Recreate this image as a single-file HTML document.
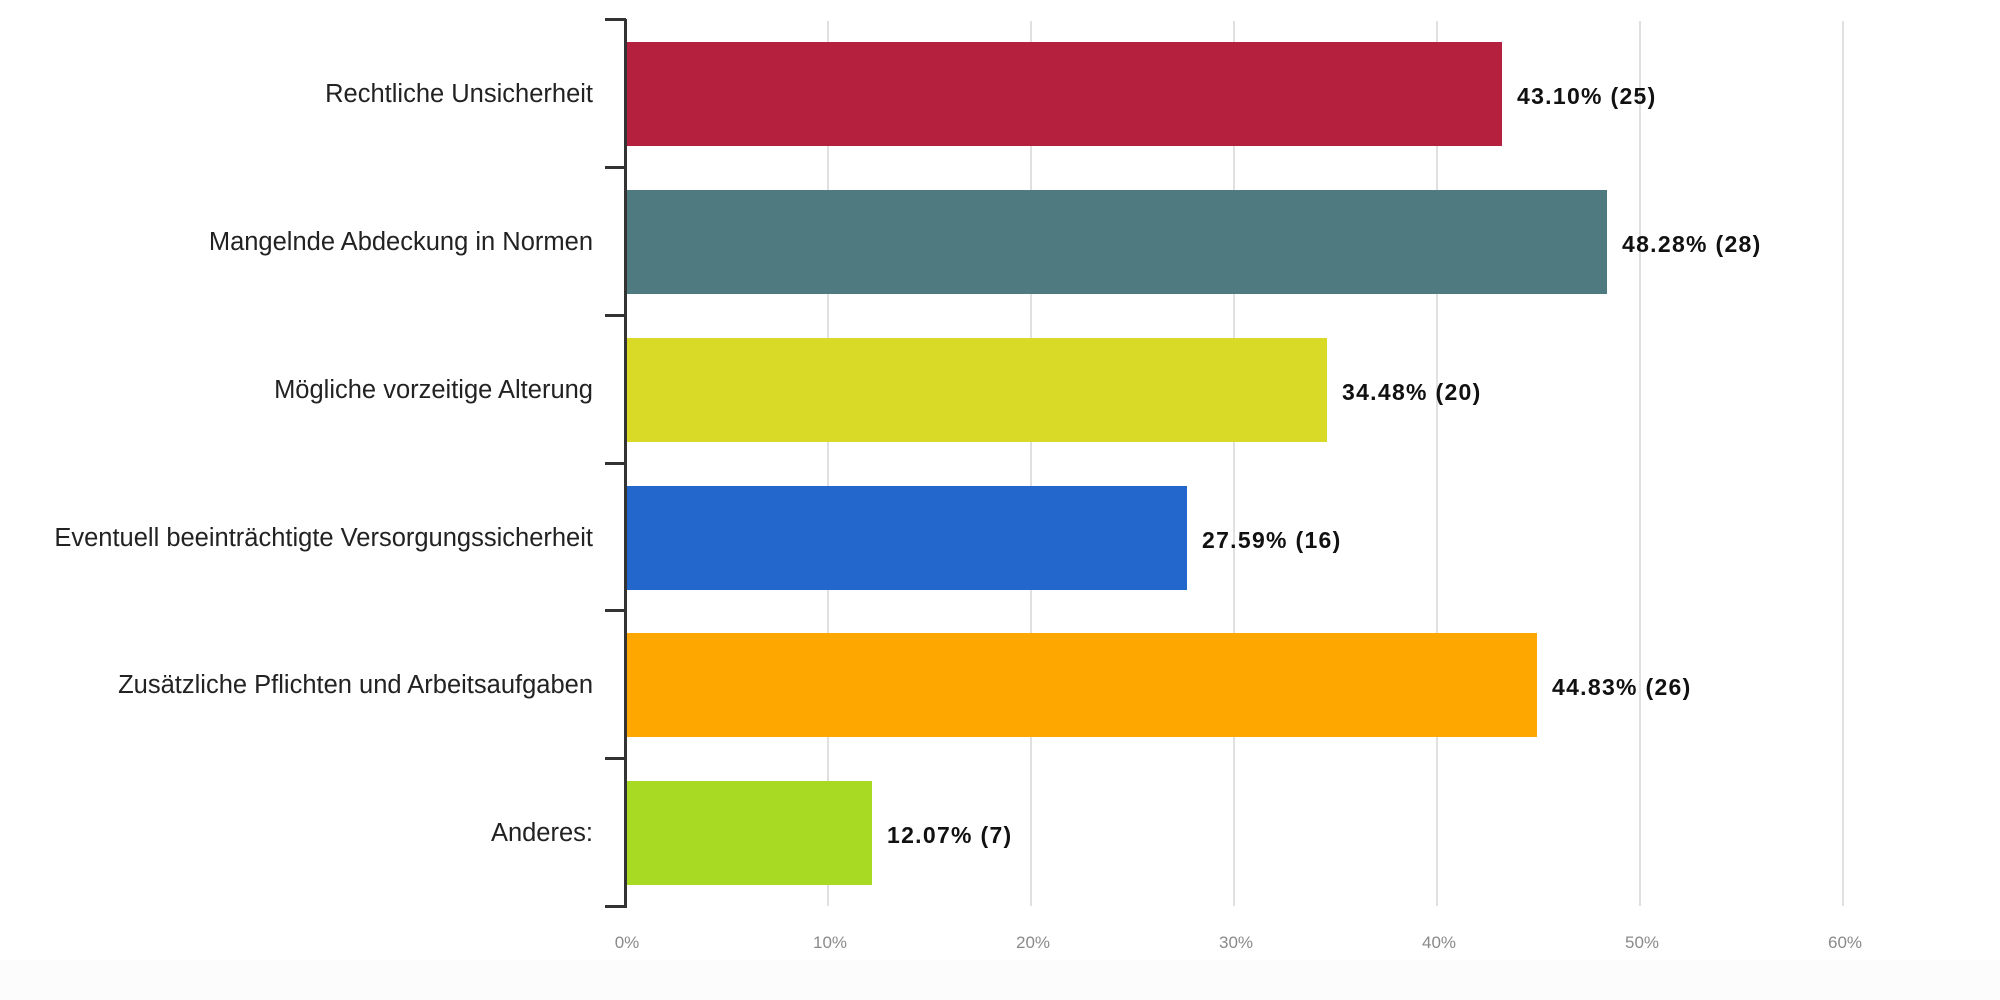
<!DOCTYPE html>
<html><head><meta charset="utf-8"><style>
html,body{margin:0;padding:0;background:#fff;}
body{width:2000px;height:1000px;overflow:hidden;position:relative;font-family:"Liberation Sans",sans-serif;}
.g{position:absolute;top:21px;height:885px;width:2px;background:#e0e0e0;}
.bar{position:absolute;height:104px;left:627px;}
.cl{position:absolute;right:1407px;font-size:25.5px;color:#222;white-space:nowrap;line-height:30px;}
.vl{position:absolute;font-size:23px;font-weight:bold;color:#111;letter-spacing:1.3px;white-space:nowrap;line-height:28px;}
.tk{position:absolute;top:933px;font-size:17px;color:#8a8a8a;width:80px;margin-left:-40px;text-align:center;}
.tick{position:absolute;left:605px;width:21px;height:3px;background:#333;}
</style></head><body>
<div style="position:absolute;left:0;top:960px;width:2000px;height:40px;background:#fcfcfc"></div>
<div class="g" style="left:827px"></div>
<div class="g" style="left:1030px"></div>
<div class="g" style="left:1233px"></div>
<div class="g" style="left:1436px"></div>
<div class="g" style="left:1639px"></div>
<div class="g" style="left:1842px"></div>

<div style="position:absolute;left:624px;top:19px;width:3px;height:889px;background:#333"></div>
<div class="tick" style="top:18px"></div>
<div class="tick" style="top:166px"></div>
<div class="tick" style="top:314px"></div>
<div class="tick" style="top:462px"></div>
<div class="tick" style="top:609px"></div>
<div class="tick" style="top:757px"></div>
<div class="tick" style="top:905px"></div>

<div class="bar" style="top:42px;width:875px;background:#b5203f"></div>
<div class="bar" style="top:190px;width:980px;background:#4f7a80"></div>
<div class="bar" style="top:338px;width:700px;background:#d8da27"></div>
<div class="bar" style="top:486px;width:560px;background:#2367cc"></div>
<div class="bar" style="top:633px;width:910px;background:#fda700"></div>
<div class="bar" style="top:781px;width:245px;background:#a8d923"></div>

<div class="cl" style="top:79px">Rechtliche Unsicherheit</div>
<div class="cl" style="top:227px">Mangelnde Abdeckung in Normen</div>
<div class="cl" style="top:375px">Mögliche vorzeitige Alterung</div>
<div class="cl" style="top:523px">Eventuell beeinträchtigte Versorgungssicherheit</div>
<div class="cl" style="top:670px">Zusätzliche Pflichten und Arbeitsaufgaben</div>
<div class="cl" style="top:818px">Anderes:</div>

<div class="vl" style="top:82px;left:1517px">43.10% (25)</div>
<div class="vl" style="top:230px;left:1622px">48.28% (28)</div>
<div class="vl" style="top:378px;left:1342px">34.48% (20)</div>
<div class="vl" style="top:526px;left:1202px">27.59% (16)</div>
<div class="vl" style="top:673px;left:1552px">44.83% (26)</div>
<div class="vl" style="top:821px;left:887px">12.07% (7)</div>

<div class="tk" style="left:627px">0%</div>
<div class="tk" style="left:830px">10%</div>
<div class="tk" style="left:1033px">20%</div>
<div class="tk" style="left:1236px">30%</div>
<div class="tk" style="left:1439px">40%</div>
<div class="tk" style="left:1642px">50%</div>
<div class="tk" style="left:1845px">60%</div>
</body></html>
